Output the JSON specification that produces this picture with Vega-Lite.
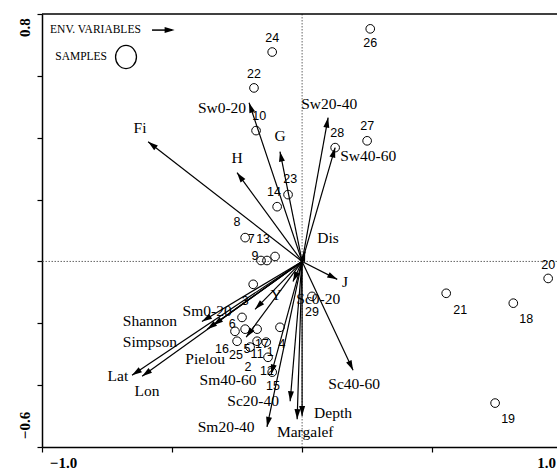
{
  "$schema": "https://vega.github.io/schema/vega-lite/v6.json",
  "width": 515,
  "height": 433,
  "autosize": {"type": "none"},
  "padding": {"left": 42, "top": 14, "right": 0, "bottom": 25},
  "background": "white",
  "config": {"view": {"stroke": null}},
  "datasets": {
    "env": [
      {"name": "Fi", "x": -0.592, "y": 0.387, "lx": -0.623, "ly": 0.432},
      {"name": "H", "x": -0.25, "y": 0.287, "lx": -0.25, "ly": 0.335},
      {"name": "Sw0-20", "x": -0.204, "y": 0.513, "lx": -0.308, "ly": 0.497},
      {"name": "G", "x": -0.085, "y": 0.355, "lx": -0.085, "ly": 0.406},
      {"name": "Sw20-40", "x": 0.1, "y": 0.465, "lx": 0.104, "ly": 0.51},
      {"name": "Sw40-60", "x": 0.127, "y": 0.368, "lx": 0.254, "ly": 0.342},
      {"name": "Dis", "x": 0.012, "y": 0.032, "lx": 0.1, "ly": 0.077},
      {"name": "J", "x": 0.135, "y": -0.058, "lx": 0.165, "ly": -0.065},
      {"name": "Y", "x": -0.181, "y": -0.155, "lx": -0.1, "ly": -0.11},
      {"name": "Sc0-20", "x": -0.035, "y": -0.065, "lx": 0.062, "ly": -0.123},
      {"name": "Sc40-60", "x": 0.196, "y": -0.352, "lx": 0.2, "ly": -0.397},
      {"name": "Depth", "x": 0.0, "y": -0.5, "lx": 0.119, "ly": -0.49},
      {"name": "Margalef", "x": -0.019, "y": -0.51, "lx": 0.012, "ly": -0.552},
      {"name": "Sc20-40", "x": -0.046, "y": -0.452, "lx": -0.188, "ly": -0.452},
      {"name": "Sm20-40", "x": -0.135, "y": -0.535, "lx": -0.292, "ly": -0.535},
      {"name": "Sm40-60", "x": -0.119, "y": -0.365, "lx": -0.285, "ly": -0.384},
      {"name": "Pielou", "x": -0.215, "y": -0.245, "lx": -0.373, "ly": -0.316},
      {"name": "Lat", "x": -0.654, "y": -0.368, "lx": -0.708, "ly": -0.371},
      {"name": "Lon", "x": -0.615, "y": -0.371, "lx": -0.596, "ly": -0.419},
      {"name": "Simpson", "x": -0.365, "y": -0.219, "lx": -0.585, "ly": -0.261},
      {"name": "Shannon", "x": -0.385, "y": -0.194, "lx": -0.585, "ly": -0.194},
      {"name": "Sm0-20", "x": -0.342, "y": -0.206, "lx": -0.365, "ly": -0.161}
    ],
    "samples": [
      {"id": "1", "x": -0.138, "y": -0.261, "lx": -0.123, "ly": -0.294},
      {"id": "2", "x": -0.2, "y": -0.277, "lx": -0.208, "ly": -0.342},
      {"id": "3", "x": -0.188, "y": -0.074, "lx": -0.219, "ly": -0.129},
      {"id": "4", "x": -0.085, "y": -0.213, "lx": -0.077, "ly": -0.268},
      {"id": "5", "x": -0.219, "y": -0.219, "lx": -0.212, "ly": -0.284},
      {"id": "6", "x": -0.231, "y": -0.181, "lx": -0.269, "ly": -0.203},
      {"id": "7", "x": -0.135, "y": 0.003, "lx": -0.196, "ly": 0.071},
      {"id": "8", "x": -0.219, "y": 0.077, "lx": -0.25, "ly": 0.129},
      {"id": "9", "x": -0.158, "y": 0.003, "lx": -0.181, "ly": 0.019},
      {"id": "10", "x": -0.177, "y": 0.423, "lx": -0.165, "ly": 0.471},
      {"id": "11", "x": -0.173, "y": -0.258, "lx": -0.173, "ly": -0.3},
      {"id": "12", "x": -0.131, "y": -0.31, "lx": -0.135, "ly": -0.355},
      {"id": "13", "x": -0.104, "y": 0.016, "lx": -0.15, "ly": 0.071},
      {"id": "14", "x": -0.096, "y": 0.177, "lx": -0.108, "ly": 0.223},
      {"id": "15", "x": -0.115, "y": -0.358, "lx": -0.112, "ly": -0.403},
      {"id": "16", "x": -0.258, "y": -0.226, "lx": -0.308, "ly": -0.284},
      {"id": "17", "x": -0.173, "y": -0.219, "lx": -0.154, "ly": -0.268},
      {"id": "18", "x": 0.812, "y": -0.135, "lx": 0.862, "ly": -0.187},
      {"id": "19", "x": 0.742, "y": -0.458, "lx": 0.792, "ly": -0.51},
      {"id": "20", "x": 0.946, "y": -0.055, "lx": 0.946, "ly": -0.01},
      {"id": "21", "x": 0.554, "y": -0.103, "lx": 0.608, "ly": -0.158},
      {"id": "22", "x": -0.185, "y": 0.561, "lx": -0.185, "ly": 0.606},
      {"id": "23", "x": -0.054, "y": 0.216, "lx": -0.046, "ly": 0.265},
      {"id": "24", "x": -0.115, "y": 0.677, "lx": -0.115, "ly": 0.723},
      {"id": "25", "x": -0.25, "y": -0.258, "lx": -0.254, "ly": -0.303},
      {"id": "26", "x": 0.262, "y": 0.752, "lx": 0.262, "ly": 0.706},
      {"id": "27", "x": 0.25, "y": 0.39, "lx": 0.25, "ly": 0.439},
      {"id": "28", "x": 0.127, "y": 0.368, "lx": 0.135, "ly": 0.416},
      {"id": "29", "x": 0.038, "y": -0.113, "lx": 0.038, "ly": -0.165}
    ]
  },
  "layer": [
    {
      "data": {"values": [{}]},
      "mark": {"type": "rule", "strokeDash": [1.5, 1.5], "color": "#666666", "strokeWidth": 1},
      "encoding": {"x": {"datum": 0, "type": "quantitative"}}
    },
    {
      "data": {"values": [{}]},
      "mark": {"type": "rule", "strokeDash": [1.5, 1.5], "color": "#666666", "strokeWidth": 1},
      "encoding": {"y": {"datum": 0, "type": "quantitative"}}
    },
    {
      "data": {"values": [{}]},
      "mark": {"type": "rule", "color": "black", "strokeWidth": 1.5},
      "encoding": {"y": {"datum": 0.8, "type": "quantitative"}}
    },
    {
      "data": {"name": "env"},
      "mark": {"type": "rule", "color": "black", "strokeWidth": 1.2},
      "encoding": {
        "x": {
          "field": "x", "type": "quantitative",
          "scale": {"domain": [-1, 0.98], "nice": false, "zero": false},
          "axis": {
            "title": null, "grid": false,
            "values": [-1, -0.5, 0, 0.5, 0.98],
            "labelExpr": "datum.value < -0.9 ? '−1.0' : (datum.value > 0.9 ? '1.0' : '')",
            "labelFont": "Liberation Serif", "labelFontWeight": "bold", "labelFontSize": 15,
            "labelColor": "black", "labelFlush": false, "labelPadding": 3, "labelBound": false,
            "labelOffset": {"condition": {"test": "datum.value < -0.9", "value": 21}, "value": -11},
            "domainColor": "black", "domainWidth": 1.5,
            "tickColor": "black", "tickSize": 5, "tickWidth": 1.2,
            "tickOpacity": {"condition": {"test": "datum.value > 0.9", "value": 0}, "value": 1}
          }
        },
        "y": {
          "field": "y", "type": "quantitative",
          "scale": {"domain": [-0.6, 0.8], "nice": false, "zero": false},
          "axis": {
            "title": null, "grid": false,
            "values": [-0.6, -0.4, -0.2, 0, 0.2, 0.4, 0.6, 0.8],
            "labelExpr": "datum.value > 0.7 ? '0.8' : (datum.value < -0.5 ? '−0.6' : '')",
            "labelFont": "Liberation Serif", "labelFontWeight": "bold", "labelFontSize": 15,
            "labelColor": "black", "labelAngle": -90, "labelFlush": false, "labelPadding": 5, "labelBound": false,
            "labelOffset": {"condition": {"test": "datum.value > 0.7", "value": 13}, "value": -22},
            "domainColor": "black", "domainWidth": 1.5,
            "tickColor": "black", "tickSize": 5, "tickWidth": 1.2
          }
        },
        "x2": {"datum": 0},
        "y2": {"datum": 0}
      }
    },
    {
      "data": {"name": "env"},
      "transform": [{"calculate": "atan2(datum.x * 260, datum.y * 309.3) * 180 / PI", "as": "angle"}],
      "mark": {"type": "point", "shape": "M0,0L0.6,2L-0.6,2Z", "filled": true, "color": "black", "opacity": 1, "size": 100, "strokeWidth": 0},
      "encoding": {
        "x": {"field": "x", "type": "quantitative"},
        "y": {"field": "y", "type": "quantitative"},
        "angle": {"field": "angle", "type": "quantitative", "scale": null}
      }
    },
    {
      "data": {"name": "samples"},
      "mark": {"type": "point", "shape": "circle", "filled": false, "color": "black", "opacity": 1, "size": 75, "strokeWidth": 1},
      "encoding": {
        "x": {"field": "x", "type": "quantitative"},
        "y": {"field": "y", "type": "quantitative"}
      }
    },
    {
      "data": {"name": "samples"},
      "mark": {"type": "text", "font": "Liberation Sans", "fontSize": 12.5, "color": "black", "align": "center", "baseline": "middle"},
      "encoding": {
        "x": {"field": "lx", "type": "quantitative"},
        "y": {"field": "ly", "type": "quantitative"},
        "text": {"field": "id"}
      }
    },
    {
      "data": {"name": "env"},
      "mark": {"type": "text", "font": "Liberation Serif", "fontSize": 15.5, "color": "black", "align": "center", "baseline": "middle"},
      "encoding": {
        "x": {"field": "lx", "type": "quantitative"},
        "y": {"field": "ly", "type": "quantitative"},
        "text": {"field": "name"}
      }
    },
    {
      "data": {"values": [{}]},
      "mark": {"type": "text", "font": "Liberation Serif", "fontSize": 11.5, "color": "black", "align": "left", "baseline": "middle"},
      "encoding": {
        "x": {"datum": -0.969, "type": "quantitative"},
        "y": {"datum": 0.748, "type": "quantitative"},
        "text": {"value": "ENV. VARIABLES"}
      }
    },
    {
      "data": {"values": [{}]},
      "mark": {"type": "rule", "color": "black", "strokeWidth": 1.5},
      "encoding": {
        "x": {"datum": -0.577, "type": "quantitative"},
        "x2": {"datum": -0.5},
        "y": {"datum": 0.748, "type": "quantitative"}
      }
    },
    {
      "data": {"values": [{}]},
      "mark": {"type": "point", "shape": "M0,0L0.6,2L-0.6,2Z", "filled": true, "color": "black", "opacity": 1, "size": 100, "angle": 90, "strokeWidth": 0},
      "encoding": {
        "x": {"datum": -0.49, "type": "quantitative"},
        "y": {"datum": 0.748, "type": "quantitative"}
      }
    },
    {
      "data": {"values": [{}]},
      "mark": {"type": "text", "font": "Liberation Serif", "fontSize": 11.5, "color": "black", "align": "right", "baseline": "middle"},
      "encoding": {
        "x": {"datum": -0.75, "type": "quantitative"},
        "y": {"datum": 0.661, "type": "quantitative"},
        "text": {"value": "SAMPLES"}
      }
    },
    {
      "data": {"values": [{}]},
      "mark": {"type": "point", "shape": "M0,-1.05A0.95,1.05 0 1,1 0,1.05A0.95,1.05 0 1,1 0,-1.05Z", "filled": false, "color": "black", "opacity": 1, "size": 484, "strokeWidth": 1.3},
      "encoding": {
        "x": {"datum": -0.677, "type": "quantitative"},
        "y": {"datum": 0.661, "type": "quantitative"}
      }
    }
  ]
}
